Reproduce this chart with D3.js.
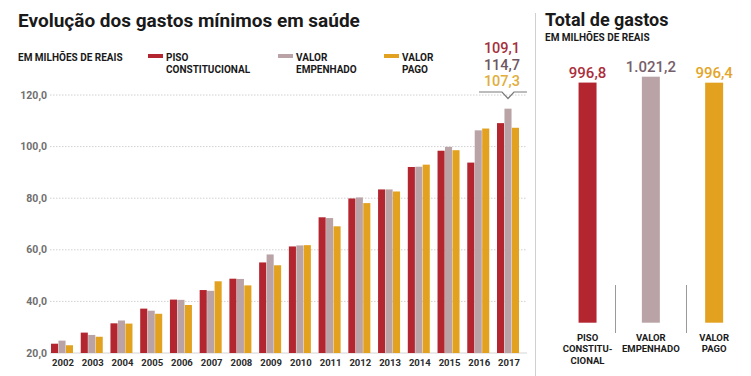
<!DOCTYPE html>
<html><head><meta charset="utf-8">
<script src="https://cdn.jsdelivr.net/npm/d3@7"></script>
<style>
body{margin:0;background:#fff;}
text{font-family:Roboto, "Noto Sans", sans-serif;}
</style></head>
<body><svg id="c" width="751" height="376"></svg>
<script>
const years = ["2002","2003","2004","2005","2006","2007","2008","2009","2010","2011","2012","2013","2014","2015","2016","2017"];
const pisoConstitucional = [23.6,27.9,31.5,37.2,40.7,44.4,48.8,55.1,61.3,72.6,79.9,83.4,92.1,98.4,93.8,109.1];
const valorEmpenhado     = [24.8,27.0,32.6,36.4,40.6,44.1,48.7,58.2,61.7,72.3,80.3,83.4,92.2,99.9,106.3,114.7];
const valorPago          = [23.0,26.3,31.4,35.2,38.6,47.8,46.2,54.0,61.8,69.1,78.1,82.6,93.0,98.6,107.0,107.3];
const seriesNames = ["PISO CONSTITUCIONAL","VALOR EMPENHADO","VALOR PAGO"];
const seriesLegendLines = [["PISO","CONSTITUCIONAL"],["VALOR","EMPENHADO"],["VALOR","PAGO"]];
const yTicks = [20,40,60,80,100,120];
const annotationLabels = ["109,1","114,7","107,3"];
const totalCategories = ["PISO CONSTITUCIONAL","VALOR EMPENHADO","VALOR PAGO"];
const totalLabelLines = [["PISO","CONSTITU-","CIONAL"],["VALOR","EMPENHADO"],["VALOR","PAGO"]];
const totalValues = [996.8,1021.2,996.4];
const totalValueLabels = ["996,8","1.021,2","996,4"];

const colors = ["#b3262f","#b9a3a6","#e2a11f"];
const labelColors = ["#a52f3b","#6e5660","#e0ae3c"];
const totalLabelColors = ["#ab2f3b","#76606a","#e3a52a"];

const svg = d3.select("#c");
const seriesData = [pisoConstitucional, valorEmpenhado, valorPago];

// ---------- Left chart ----------
const x0 = d3.scaleBand().domain(years).range([51,519]).paddingInner(0.26).paddingOuter(0);
const x1 = d3.scaleBand().domain(d3.range(3)).range([0,x0.bandwidth()]).paddingInner(0.05);
const y = d3.scaleLinear().domain([20,120]).range([353,95]);

svg.append("text").attr("x",18).attr("y",27).attr("font-size",19).attr("font-weight",700)
  .attr("fill","#1a1a1a").text("Evolução dos gastos mínimos em saúde");

svg.append("text").attr("x",18).attr("y",61).attr("font-size",10).attr("font-weight",700)
  .attr("fill","#1a1a1a").text("EM MILHÕES DE REAIS");

const legendX = [148,278,384];
seriesNames.forEach((s,i)=>{
  svg.append("rect").attr("x",legendX[i]).attr("y",54).attr("width",15).attr("height",4).attr("fill",colors[i]);
  const t = svg.append("text").attr("x",legendX[i]+18).attr("y",61).attr("font-size",10).attr("font-weight",700).attr("fill","#1a1a1a");
  seriesLegendLines[i].forEach((l,j)=>t.append("tspan").attr("x",legendX[i]+18).attr("dy", j===0?0:11.8).text(l));
});

// gridlines
const grid = svg.append("g");
yTicks.forEach(v=>{
  grid.append("line").attr("x1",50).attr("x2",527).attr("y1",y(v)).attr("y2",y(v))
    .attr("stroke", v===20 ? "#d4d4d4" : "#d0d0d0").attr("stroke-width",1)
    .attr("stroke-dasharray", v===20 ? null : "1.5,1.5");
  grid.append("text").attr("x",47).attr("y",y(v)+3.5).attr("text-anchor","end")
    .attr("font-size",10.5).attr("font-weight",700).attr("fill","#707070")
    .text(d3.format(".1f")(v).replace(".",","));
});

// bars
const groups = svg.append("g").selectAll("g").data(years).join("g")
  .attr("transform",d=>`translate(${x0(d)},0)`);
groups.selectAll("rect").data((d,i)=>seriesData.map((s,k)=>({k,v:s[i]}))).join("rect")
  .attr("x",d=>x1(d.k)).attr("width",x1.bandwidth())
  .attr("y",d=>y(d.v)).attr("height",d=>y(20)-y(d.v)).attr("fill",d=>colors[d.k]);

// year labels
svg.append("g").selectAll("text").data(years).join("text")
  .attr("x",d=>x0(d)+x0.bandwidth()/2+1).attr("y",366).attr("text-anchor","middle")
  .attr("font-size",9.5).attr("font-weight",700).attr("fill","#2a2a2a").text(d=>d);

// annotation for 2017
const last = years[years.length-1];
const cx = x0(last) + x1(1) + x1.bandwidth()/2;
const ly = 92;
svg.append("path").attr("d",`M${cx-29},${ly}H${cx-6}L${cx},${ly+6.5}L${cx+6},${ly}H${cx+19}`)
  .attr("fill","none").attr("stroke","#7a7a7a").attr("stroke-width",1.2);
annotationLabels.forEach((l,i)=>{
  svg.append("text").attr("x",cx-6).attr("y",53+i*16.5).attr("text-anchor","middle")
    .attr("font-size",14.5).attr("font-weight",500).attr("fill",labelColors[i]).text(l);
});

// ---------- Right panel ----------
svg.append("line").attr("x1",535.5).attr("x2",535.5).attr("y1",13).attr("y2",376).attr("stroke","#d0d0d0");
svg.append("text").attr("x",545).attr("y",26).attr("font-size",18).attr("font-weight",700)
  .attr("fill","#1a1a1a").text("Total de gastos");
svg.append("text").attr("x",545).attr("y",41).attr("font-size",10).attr("font-weight",700)
  .attr("fill","#1a1a1a").text("EM MILHÕES DE REAIS");

const xr = d3.scaleBand().domain(totalCategories).range([555.9,745.8]).paddingInner(0.716).paddingOuter(0.358);
const yr = d3.scaleLinear().domain([0,d3.max(totalValues)]).range([322.7,76.7]);

svg.append("g").selectAll("rect").data(totalCategories).join("rect")
  .attr("x",d=>xr(d)).attr("width",xr.bandwidth())
  .attr("y",(d,i)=>yr(totalValues[i])).attr("height",(d,i)=>yr(0)-yr(totalValues[i]))
  .attr("fill",(d,i)=>colors[i]);

svg.append("g").selectAll("text").data(totalCategories).join("text")
  .attr("x",d=>xr(d)+xr.bandwidth()/2).attr("y",(d,i)=>yr(totalValues[i])-5)
  .attr("text-anchor","middle").attr("font-size",15).attr("font-weight",500)
  .attr("fill",(d,i)=>totalLabelColors[i]).text((d,i)=>totalValueLabels[i]);

const catTexts = [];
totalCategories.forEach((c,i)=>{
  const t = svg.append("text").attr("text-anchor","middle").attr("font-size",9.5).attr("font-weight",700).attr("fill","#1a1a1a");
  const cxr = xr(c)+xr.bandwidth()/2;
  totalLabelLines[i].forEach((l,j)=>t.append("tspan").attr("x",cxr).attr("y",341+j*11.3).text(l));
  catTexts.push(t);
});
for(let i=0;i<catTexts.length-1;i++){
  const a = catTexts[i].node().getBBox(), b = catTexts[i+1].node().getBBox();
  const r = a.x+a.width, l = b.x;
  const lx = Math.round(r + 0.3*(l-r)) + 0.5;
  svg.append("line").attr("x1",lx).attr("x2",lx).attr("y1",285).attr("y2",333).attr("stroke","#9a9a9a");
}
</script></body></html>
